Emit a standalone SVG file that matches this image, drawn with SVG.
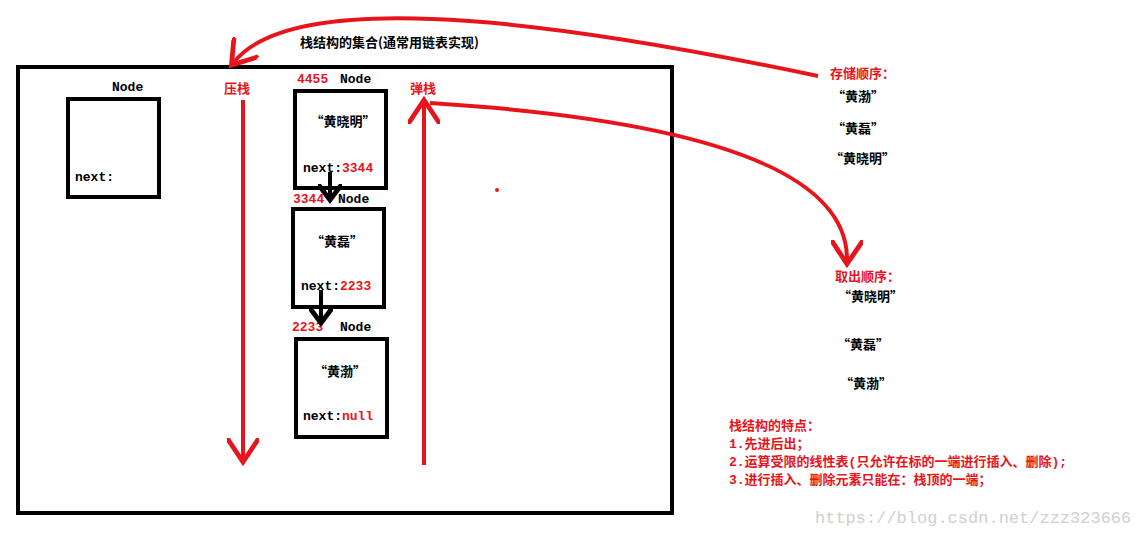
<svg xmlns="http://www.w3.org/2000/svg" width="1137" height="538" viewBox="0 0 1137 538">
<style>
text{font-family:"Liberation Mono","Noto Sans CJK SC",monospace;font-size:13px;font-weight:bold}
.cn{font-family:"Noto Sans CJK SC",sans-serif;font-size:13px;font-weight:bold}
.r{fill:#e8141c}.k{fill:#000}
.box{fill:#fff;stroke:#000;stroke-width:4}
.red{stroke:#e8141c;stroke-width:4;fill:none}
</style>
<defs>
<marker id="ra" markerWidth="8" markerHeight="8" refX="5" refY="4" orient="auto" markerUnits="strokeWidth"><path d="M0,0 L6,4 L0,8" fill="none" stroke="#e8141c" stroke-width="1.2"/></marker>
<marker id="ka" markerWidth="6" markerHeight="6" refX="3" refY="3" orient="auto" markerUnits="strokeWidth"><path d="M0,0 L4,3 L0,6" fill="none" stroke="#000" stroke-width="1.2"/></marker>
</defs>
<rect width="1137" height="538" fill="#fff"/>
<rect x="18" y="67" width="654" height="446" fill="none" stroke="#000" stroke-width="4"/>
<text x="300" y="47" class="cn k">栈结构的集合(通常用链表实现)</text>
<g id="node0"><rect class="box" x="68" y="99" width="91" height="98"/><text x="112" y="91">Node</text><text x="75" y="181">next:</text></g>
<g id="node1"><rect class="box" x="295" y="91" width="91" height="97"/><text x="297" y="83" class="r">4455</text><text x="340" y="83">Node</text><text x="343" y="126" class="cn" text-anchor="middle">“黄晓明”</text><text x="303" y="172">next:<tspan class="r">3344</tspan></text></g>
<g id="node2"><rect class="box" x="293" y="209" width="91" height="98"/><text x="293" y="203" class="r">3344</text><text x="338" y="203">Node</text><text x="337" y="246" class="cn" text-anchor="middle">“黄磊”</text><text x="301" y="290">next:<tspan class="r">2233</tspan></text></g>
<g id="node3"><rect class="box" x="296" y="339" width="91" height="98"/><text x="292" y="331" class="r">2233</text><text x="340" y="331">Node</text><text x="340" y="376" class="cn" text-anchor="middle">“黄渤”</text><text x="303" y="420">next:<tspan class="r">null</tspan></text></g>
<g id="connectors">
<line x1="330" y1="172" x2="330" y2="196" stroke="#000" stroke-width="4" marker-end="url(#ka)"/>
<line x1="321" y1="290" x2="321" y2="319" stroke="#000" stroke-width="4" marker-end="url(#ka)"/>
<line class="red" x1="243" y1="100" x2="243" y2="458" marker-end="url(#ra)"/>
<line class="red" x1="424" y1="465" x2="424" y2="104" marker-end="url(#ra)"/>
<path class="red" d="M818,76 C600,30 300,-20 234,62" marker-end="url(#ra)"/>
<path class="red" d="M430,103 C700,120 848,170 847,260" marker-end="url(#ra)"/>
</g>
<text x="224" y="93" class="cn r">压栈</text>
<text x="410" y="93" class="cn r">弹栈</text>
<circle cx="497" cy="190" r="2" fill="#e8141c"/>
<text x="830" y="78" class="cn r">存储顺序：</text>
<text x="832" y="101" class="cn k">“黄渤”</text>
<text x="832" y="133" class="cn k">“黄磊”</text>
<text x="830" y="163" class="cn k">“黄晓明”</text>
<text x="835" y="281" class="cn r">取出顺序：</text>
<text x="838" y="301" class="cn k">“黄晓明”</text>
<text x="837" y="349" class="cn k">“黄磊”</text>
<text x="840" y="388" class="cn k">“黄渤”</text>
<text x="729" y="430" class="r">栈结构的特点：</text>
<text x="729" y="448" class="r">1.先进后出；</text>
<text x="729" y="466" class="r">2.运算受限的线性表(只允许在标的一端进行插入、删除);</text>
<text x="729" y="484" class="r">3.进行插入、删除元素只能在：栈顶的一端；</text>
<text x="815" y="523" style="font-weight:normal;font-size:17px;fill:#d0d0d0">https://blog.csdn.net/zzz323666</text>
</svg>
